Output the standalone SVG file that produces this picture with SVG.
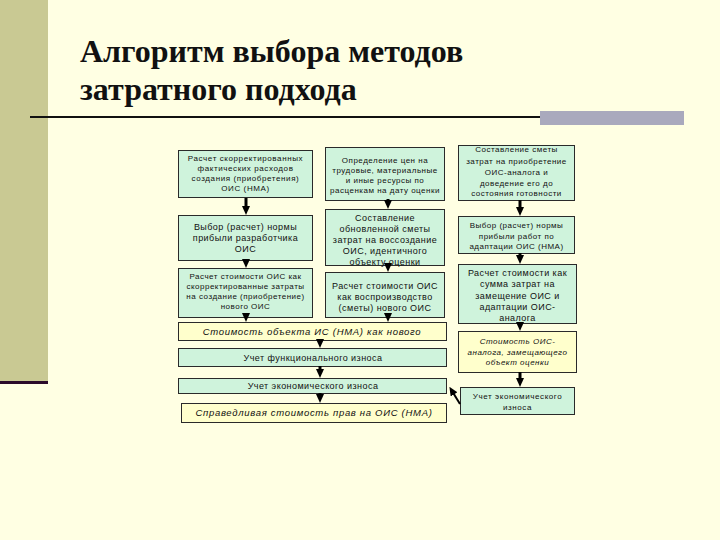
<svg xmlns="http://www.w3.org/2000/svg" width="720" height="540" viewBox="0 0 720 540">
<defs>
<style>
.g{fill:#CFF3DC;stroke:#2a2a2a;stroke-width:1}
.y{fill:#FFFFCC;stroke:#2a2a2a;stroke-width:1}
.t{font-family:"Liberation Sans",Arial,sans-serif;font-size:8px;letter-spacing:0.6px;fill:#111;text-anchor:middle}
.L{font-size:9px;letter-spacing:0.45px}
.i{font-style:italic;font-size:9.5px;letter-spacing:0.7px}
.s{font-size:8px;letter-spacing:0.5px}
.ttl{font-family:"Liberation Serif","Times New Roman","DejaVu Serif",serif;font-weight:bold;font-size:32px;fill:#111}
.c line{stroke:#000;stroke-width:3;marker-end:url(#ah)}
</style>
<marker id="ah" markerUnits="userSpaceOnUse" markerWidth="9" markerHeight="8" refX="4" refY="4" orient="auto"><path d="M0,0L9,4L0,8z" fill="#000"/></marker>
</defs>
<rect width="720" height="540" fill="#FFFFE3"/>
<rect x="0" y="0" width="48" height="381" fill="#C9C993"/>
<rect x="0" y="381" width="48" height="3" fill="#2A0A2A"/>
<g id="title">
<text class="ttl" x="80" y="62">Алгоритм выбора методов</text>
<text class="ttl" x="80" y="100">затратного подхода</text>
<rect x="30" y="116" width="510" height="2" fill="#111"/>
<rect x="540" y="111" width="144" height="14" fill="#A9A9BD"/>
</g>

<g id="a1"><rect class="g" x="178.5" y="150.5" width="134" height="47"/>
<text class="t" x="245.5" y="161">Расчет скорректированных</text>
<text class="t" x="245.5" y="171">фактических расходов</text>
<text class="t" x="245.5" y="181">создания (приобретения)</text>
<text class="t" x="245.5" y="191">ОИС (НМА)</text></g>
<g id="b1"><rect class="g" x="178.5" y="215.5" width="134" height="45"/>
<text class="t L" x="245.5" y="230">Выбор (расчет) нормы</text>
<text class="t L" x="245.5" y="241">прибыли разработчика</text>
<text class="t L" x="245.5" y="252">ОИС</text></g>
<g id="c1"><rect class="g" x="178.5" y="268.5" width="134" height="49"/>
<text class="t s" x="245.5" y="279">Расчет стоимости ОИС как</text>
<text class="t s" x="245.5" y="289">скорректированные затраты</text>
<text class="t s" x="245.5" y="299">на создание (приобретение)</text>
<text class="t s" x="245.5" y="309">нового ОИС</text></g>

<g id="a2"><rect class="g" x="325.5" y="147.5" width="119" height="53"/>
<text class="t s" x="385" y="163">Определение цен на</text>
<text class="t s" x="385" y="173">трудовые, материальные</text>
<text class="t s" x="385" y="183">и иные ресурсы по</text>
<text class="t s" x="385" y="193">расценкам на дату оценки</text></g>
<g id="b2"><rect class="g" x="325.5" y="209.5" width="119" height="56"/>
<text class="t L" x="385" y="221">Составление</text>
<text class="t L" x="385" y="232">обновленной сметы</text>
<text class="t L" x="385" y="243">затрат на воссоздание</text>
<text class="t L" x="385" y="254">ОИС, идентичного</text>
<text class="t L" x="385" y="265">объекту оценки</text></g>
<g id="c2"><rect class="g" x="325.5" y="272.5" width="119" height="45"/>
<text class="t L" x="385" y="289">Расчет стоимости ОИС</text>
<text class="t L" x="385" y="300">как воспроизводство</text>
<text class="t L" x="385" y="311">(сметы) нового ОИС</text></g>

<g id="a3"><rect class="g" x="458.5" y="145.5" width="116" height="55"/>
<text class="t s" x="516.5" y="152">Составление сметы</text>
<text class="t s" x="516.5" y="164">затрат на приобретение</text>
<text class="t s" x="516.5" y="175">ОИС-аналога и</text>
<text class="t s" x="516.5" y="186">доведение его до</text>
<text class="t s" x="516.5" y="196">состояния готовности</text></g>
<g id="b3"><rect class="g" x="458.5" y="216.5" width="116" height="37"/>
<text class="t s" x="516.5" y="228">Выбор (расчет) нормы</text>
<text class="t s" x="516.5" y="239">прибыли работ по</text>
<text class="t s" x="516.5" y="249">адаптации ОИС (НМА)</text></g>
<g id="c3"><rect class="g" x="458.5" y="264.5" width="118" height="59"/>
<text class="t L" x="517.5" y="276">Расчет стоимости как</text>
<text class="t L" x="517.5" y="287">сумма затрат на</text>
<text class="t L" x="517.5" y="299">замещение ОИС и</text>
<text class="t L" x="517.5" y="310">адаптации ОИС-</text>
<text class="t L" x="517.5" y="321">аналога</text></g>
<g id="d3"><rect class="y" x="458.5" y="331.5" width="118" height="41"/>
<text class="t i s" x="517.5" y="344">Стоимость ОИС-</text>
<text class="t i s" x="517.5" y="355">аналога, замещающего</text>
<text class="t i s" x="517.5" y="365">объект оценки</text></g>
<g id="e3"><rect class="g" x="460.5" y="387.5" width="114" height="27"/>
<text class="t" x="517.5" y="399">Учет экономического</text>
<text class="t" x="517.5" y="410">износа</text></g>

<g id="new"><rect class="y" x="178.5" y="322.5" width="268" height="18"/>
<text class="t i" x="312" y="334.5">Стоимость объекта ИС (НМА) как нового</text></g>
<g id="func"><rect class="g" x="178.5" y="348.5" width="268" height="18"/>
<text class="t L" x="313" y="360.5">Учет функционального износа</text></g>
<g id="econ"><rect class="g" x="178.5" y="378.5" width="268" height="15"/>
<text class="t L" x="313" y="389">Учет экономического износа</text></g>
<g id="fair"><rect class="y" x="181.5" y="403.5" width="265" height="19"/>
<text class="t i" x="314" y="416">Справедливая стоимость прав на ОИС (НМА)</text></g>

<g id="connectors" class="c">
<line x1="246" y1="198" x2="246" y2="210"/>
<line x1="246" y1="260" x2="246" y2="263"/>
<line x1="246" y1="316" x2="246" y2="317"/>
<line x1="388" y1="199" x2="388" y2="204"/>
<line x1="388" y1="264" x2="388" y2="267"/>
<line x1="388" y1="316" x2="388" y2="317"/>
<line x1="520" y1="200" x2="520" y2="211"/>
<line x1="520" y1="253" x2="520" y2="259"/>
<line x1="520" y1="323" x2="520" y2="326"/>
<line x1="520" y1="372" x2="520" y2="382"/>
<line x1="320" y1="340" x2="320" y2="343"/>
<line x1="320" y1="366" x2="320" y2="373"/>
<line x1="320" y1="393" x2="320" y2="398"/>
<line x1="460" y1="404" x2="452" y2="391" style="stroke-width:2"/>
</g>
</svg>
